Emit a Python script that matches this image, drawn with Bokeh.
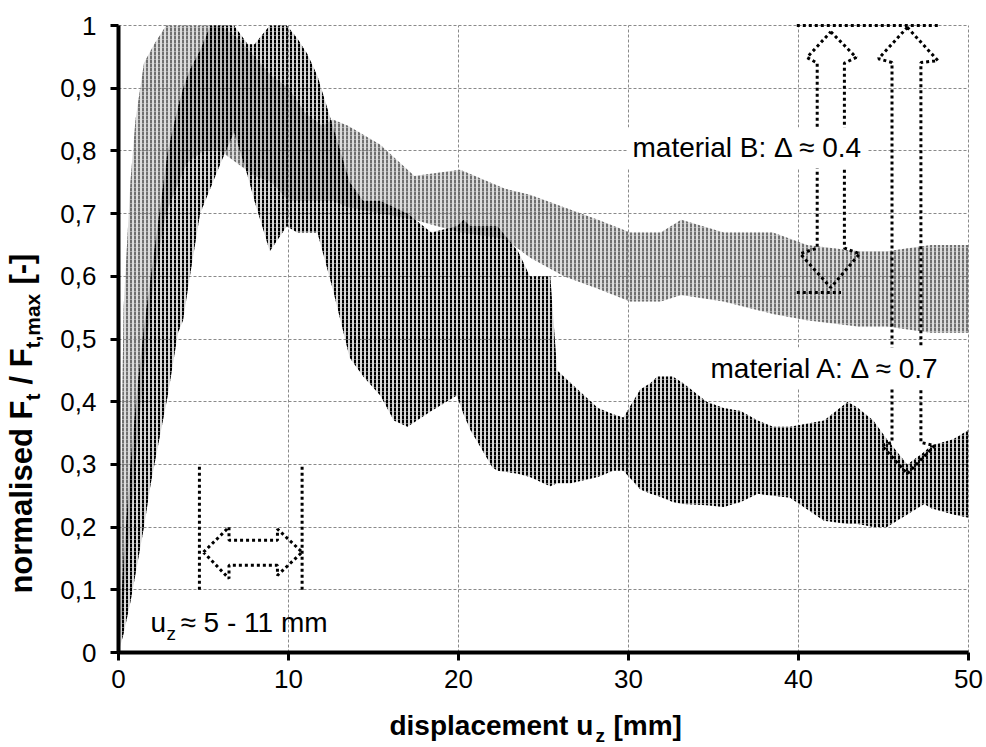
import math
from bokeh.plotting import figure
from bokeh.models import Range1d, FixedTicker, Label, Grid
from bokeh.embed import file_html
from bokeh.resources import INLINE

# ---------------- data ----------------
x_ticks = [0, 10, 20, 30, 40, 50]
x_tick_labels = ["0", "10", "20", "30", "40", "50"]
y_ticks = [0, 0.1, 0.2, 0.3, 0.4, 0.5, 0.6, 0.7, 0.8, 0.9, 1.0]
y_tick_labels = ["0", "0,1", "0,2", "0,3", "0,4", "0,5", "0,6", "0,7", "0,8", "0,9", "1"]

# material A (black): envelope of the oscillating signal
a_x = [0, 0.3, 0.7, 1.1, 1.5, 1.9, 2.4, 2.9, 3.5, 3.8, 4.2, 4.8, 5.4, 6.0, 6.8, 7.6, 8.0, 8.9,
       9.9, 10.5, 11.1, 11.7, 12.6, 13.6, 14.4, 15.4, 16.2, 17.0, 18.4, 19.9, 20.3, 20.7, 22.0,
       22.3, 23.5, 24.2, 25.0, 25.4, 25.8, 26.6, 28.2, 29.1, 29.7, 30.7, 31.3, 31.7, 32.6, 33.2,
       34.6, 35.6, 36.6, 37.6, 38.5, 39.5, 41.5, 42.9, 43.5, 44.4, 45.2, 46.4, 47.4, 47.8, 49.1, 50]
a_upper = [0.0, 0.15, 0.3, 0.42, 0.52, 0.6, 0.7, 0.8, 0.87, 0.9, 0.93, 0.96, 1.0, 1.0, 1.0, 0.97,
           0.97, 1.0, 1.0, 0.98, 0.955, 0.92, 0.84, 0.75, 0.72, 0.72, 0.71, 0.7, 0.67, 0.68, 0.69,
           0.68, 0.68, 0.68, 0.64, 0.6, 0.6, 0.6, 0.45, 0.43, 0.39, 0.38, 0.375, 0.42, 0.43, 0.44,
           0.44, 0.43, 0.40, 0.39, 0.385, 0.37, 0.36, 0.36, 0.37, 0.40, 0.39, 0.37, 0.34, 0.30,
           0.32, 0.33, 0.34, 0.355]
a_lower = [0.0, 0.03, 0.08, 0.14, 0.2, 0.27, 0.34, 0.41, 0.51, 0.53, 0.6, 0.7, 0.74, 0.78, 0.83,
           0.76, 0.72, 0.64, 0.68, 0.67, 0.67, 0.67, 0.58, 0.47, 0.44, 0.41, 0.37, 0.36, 0.385,
           0.41, 0.38, 0.355, 0.295, 0.29, 0.285, 0.28, 0.27, 0.265, 0.27, 0.27, 0.28, 0.29, 0.29,
           0.26, 0.253, 0.25, 0.24, 0.237, 0.235, 0.232, 0.24, 0.253, 0.25, 0.247, 0.21, 0.205,
           0.205, 0.2, 0.2, 0.22, 0.237, 0.23, 0.22, 0.215]

# material B (grey): envelope of the oscillating signal
b_x = [0, 0.3, 0.7, 1.0, 1.5, 2.1, 2.8, 4.0, 5.0, 6.0, 7.0, 8.0, 9.0, 10.0, 11.0, 12.0, 12.6,
       13.5, 15.4, 17.4, 20.1, 22.7, 24.2, 26.2, 28.2, 30.1, 31.9, 33.1, 35.6, 38.5, 40.5, 43.5,
       45.2, 47.8, 50]
b_upper = [0.0, 0.55, 0.75, 0.85, 0.94, 0.97, 1.0, 1.0, 1.0, 1.0, 0.98, 0.95, 0.92, 0.9, 0.86,
           0.84, 0.85, 0.84, 0.81, 0.76, 0.77, 0.74, 0.73, 0.71, 0.69, 0.67, 0.67, 0.69, 0.67,
           0.67, 0.65, 0.64, 0.64, 0.65, 0.65]
b_lower = [0.0, 0.08, 0.2, 0.3, 0.45, 0.6, 0.7, 0.78, 0.8, 0.8, 0.78, 0.76, 0.75, 0.72, 0.72,
           0.72, 0.72, 0.71, 0.70, 0.69, 0.67, 0.66, 0.63, 0.60, 0.58, 0.56, 0.56, 0.57, 0.56,
           0.54, 0.53, 0.52, 0.52, 0.51, 0.51]

# annotation shapes (dotted outline arrows)
uz_arrow_x = [5.0, 6.5, 6.5, 9.35, 9.35, 10.8, 9.35, 9.35, 6.5, 6.5, 5.0]
uz_arrow_y = [0.16, 0.2, 0.179, 0.179, 0.197, 0.16, 0.123, 0.139, 0.139, 0.118, 0.16]
uz_limits = [4.76, 10.8]
b_arrow_x = [41.9, 43.4, 42.7, 42.7, 43.6, 41.9, 40.1, 41.1, 41.1, 40.5, 41.9]
b_arrow_y = [0.99, 0.949, 0.94, 0.645, 0.636, 0.582, 0.636, 0.645, 0.94, 0.949, 0.99]
a_arrow_x = [46.4, 48.2, 47.2, 47.2, 48.0, 46.4, 44.9, 45.5, 45.5, 44.7, 46.4]
a_arrow_y = [0.997, 0.944, 0.941, 0.335, 0.33, 0.285, 0.33, 0.335, 0.941, 0.947, 0.997]

FONT = "Liberation Sans"

# plot area: x 0..50 -> px 118..968, y 0..1 -> px 652..25 ; frame spans the whole canvas
PX_X = 17.0
PX_Y = 627.0
x_lo, x_hi = -118 / PX_X, 50 + 18 / PX_X
y_lo, y_hi = -95 / PX_Y, 1 + 25 / PX_Y

p = figure(width=986, height=747, output_backend="svg", toolbar_location=None,
           x_range=Range1d(x_lo, x_hi), y_range=Range1d(y_lo, y_hi),
           min_border=0, min_border_left=0, min_border_right=0,
           min_border_top=0, min_border_bottom=0)
p.outline_line_color = None
p.background_fill_color = "white"
p.border_fill_color = "white"

# axes (own axes, drawn at fixed data locations)
for ax in (p.xaxis, p.yaxis):
    ax.fixed_location = 0
    ax.axis_line_width = 4
    ax.axis_line_color = "black"
    ax.major_tick_line_width = 3
    ax.major_tick_line_color = "black"
    ax.major_tick_in = 0
    ax.major_tick_out = 8
    ax.minor_tick_line_color = None
    ax.major_label_text_font = FONT
    ax.major_label_text_font_size = "26px"
    ax.major_label_text_color = "black"
p.xaxis.bounds = (0, 50)
p.yaxis.bounds = (0, 1)
p.xaxis.ticker = FixedTicker(ticks=x_ticks)
p.yaxis.ticker = FixedTicker(ticks=y_ticks)
p.xaxis.major_label_overrides = {t: l for t, l in zip(x_ticks, x_tick_labels)}
p.yaxis.major_label_overrides = {t: l for t, l in zip(y_ticks, y_tick_labels)}
p.xaxis.major_label_standoff = 9
p.yaxis.major_label_standoff = 14

grid_style = dict(line_color="#8a8a8a", line_dash="3 2", line_width=1)
if "cross_bounds" in Grid.properties():
    p.xgrid.bounds = (0, 50)
    p.ygrid.bounds = (0, 1)
    p.xgrid.cross_bounds = (0, 1)
    p.ygrid.cross_bounds = (0, 50)
    p.grid.grid_line_color = grid_style["line_color"]
    p.grid.grid_line_dash = grid_style["line_dash"]
    p.grid.grid_line_width = 1
else:
    p.grid.visible = False
    p.segment(x0=x_ticks, y0=[0] * len(x_ticks), x1=x_ticks, y1=[1] * len(x_ticks), **grid_style)
    p.segment(x0=[0] * len(y_ticks), y0=y_ticks, x1=[50] * len(y_ticks), y1=y_ticks, **grid_style)

# data bands (dense oscillation drawn as dashed vertical hatching)
p.varea(x=b_x, y1=b_lower, y2=b_upper, fill_color="#8c8c8c", fill_alpha=0.3,
        hatch_pattern="vertical_dash", hatch_color="#707070", hatch_scale=4, hatch_weight=2)
p.varea(x=a_x, y1=a_lower, y2=a_upper, fill_color="black", fill_alpha=0.15,
        hatch_pattern="vertical_dash", hatch_color="black", hatch_scale=4, hatch_weight=2)

# annotation arrows
dot = dict(line_color="black", line_width=3, line_dash="3 3")
p.line(uz_arrow_x, uz_arrow_y, **dot)
p.segment(x0=uz_limits, y0=[0.1, 0.1], x1=uz_limits, y1=[0.3, 0.3], **dot)
p.line(b_arrow_x, b_arrow_y, **dot)
p.line(a_arrow_x, a_arrow_y, **dot)
p.segment(x0=[39.9, 39.9], y0=[1.0, 0.574], x1=[48.2, 42.5], y1=[1.0, 0.574], **dot)

# annotation texts
def lab(x, y, text, size, **kw):
    p.add_layout(Label(x=x, y=y, text=text, text_font=FONT, text_font_size=size,
                       text_color="black", **kw))

lab(29.94, 0.772, "material B: Δ ≈ 0.4", "28px", background_fill_color="white", padding=5)
lab(34.53, 0.421, "material A: Δ ≈ 0.7", "28px", background_fill_color="white", padding=5)
lab(1.88, 0.023, "u", "28px")
lab(1.88, 0.023, "z", "19px", x_offset=16, y_offset=-6)
lab(1.88, 0.023, "≈ 5 - 11 mm", "28px", x_offset=30)

# x axis title
xb = -0.1404
lab(15.94, xb, "displacement u", "28px", text_font_style="bold")
lab(15.94, xb, "z", "19px", text_font_style="bold", x_offset=206, y_offset=-5)
lab(15.94, xb, "[mm]", "28px", text_font_style="bold", x_offset=224)

# y axis title (rotated, reading upwards)
yx = -4.65
y0 = 0.094
ang = math.pi / 2
lab(yx, y0, "normalised F", "31px", text_font_style="bold", angle=ang)
lab(yx, y0, "t", "21px", text_font_style="bold", angle=ang, y_offset=193, x_offset=5)
lab(yx, y0, "/ F", "31px", text_font_style="bold", angle=ang, y_offset=209)
lab(yx, y0, "t,max", "21px", text_font_style="bold", angle=ang, y_offset=245, x_offset=5)
lab(yx, y0, "[-]", "31px", text_font_style="bold", angle=ang, y_offset=309)

open("out.html", "w").write(file_html(p, INLINE))
